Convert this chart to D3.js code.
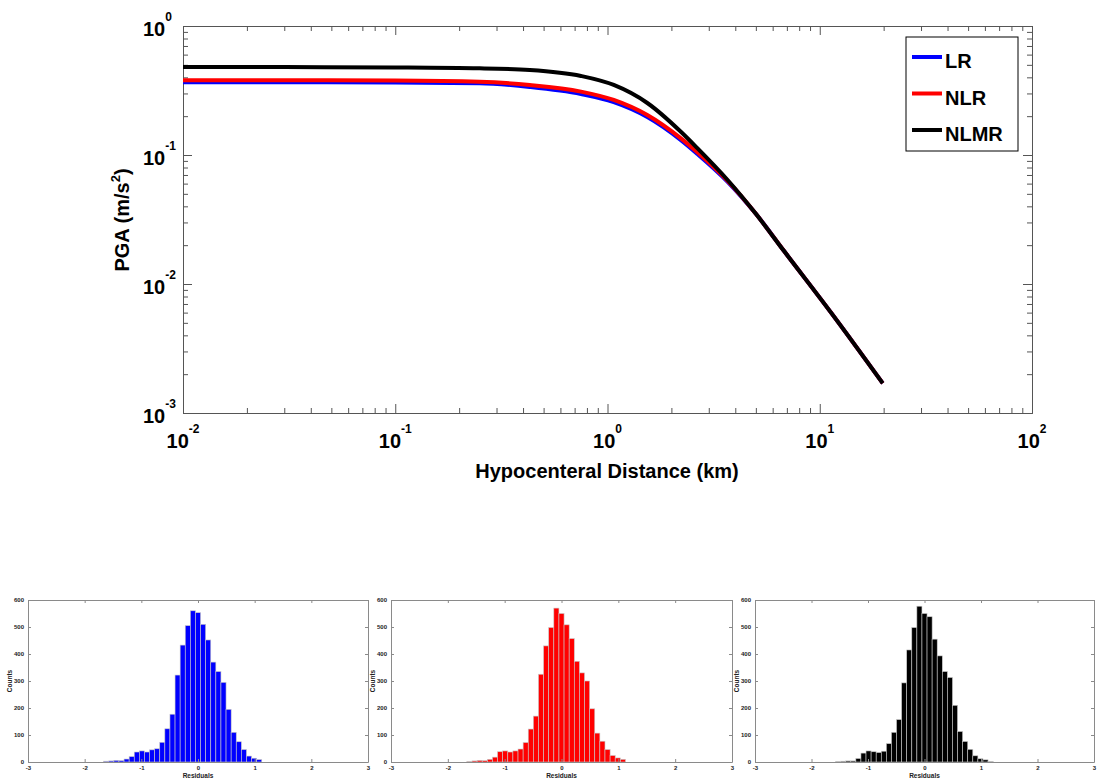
<!DOCTYPE html>
<html>
<head>
<meta charset="utf-8">
<script src="https://cdn.jsdelivr.net/npm/d3@7"></script>
<style>
body { margin: 0; background: #fff; }
text { font-family: "Liberation Sans", Arial, Helvetica, sans-serif; font-weight: bold; }
</style>
</head>
<body>
<script>
// ---- data ----
// hypocentral distance (km) and PGA (m/s^2) for each model
var distance = [0.01, 0.03, 0.1, 0.25, 0.43, 0.75, 1.07, 1.54, 2.21, 2.65, 3.68, 5.0, 6.79, 11.7, 19.8];
var pgaLR    = [0.366, 0.366, 0.364, 0.36, 0.337, 0.297, 0.257, 0.197, 0.131, 0.102, 0.062, 0.035, 0.018, 0.00556, 0.0017];
var pgaNLR   = [0.38, 0.38, 0.378, 0.37, 0.349, 0.31, 0.267, 0.204, 0.135, 0.105, 0.063, 0.035, 0.018, 0.00556, 0.0017];
var pgaNLMR  = [0.48, 0.48, 0.477, 0.47, 0.456, 0.41, 0.349, 0.253, 0.152, 0.113, 0.064, 0.035, 0.018, 0.00556, 0.0017];

var models = ["LR", "NLR", "NLMR"];
var colors = ["#0000ff", "#ff0000", "#000000"];

// residual histograms: bin centres and counts
var residualBins = [-1.62, -1.53, -1.44, -1.35, -1.26, -1.17, -1.08, -0.99, -0.90, -0.81, -0.72, -0.63,
  -0.54, -0.45, -0.36, -0.27, -0.18, -0.09, 0.00, 0.09, 0.18, 0.27, 0.36, 0.45, 0.54, 0.63, 0.72,
  0.81, 0.90, 0.99, 1.08, 1.17];
var binWidth = 0.09;
var countsLR   = [3, 4, 6, 5, 11, 20, 37, 41, 37, 45, 49, 73, 123, 177, 322, 433, 505, 560, 553, 510, 452,
  370, 335, 295, 195, 110, 75, 46, 22, 14, 9, 0];
var countsNLR  = [2, 4, 6, 5, 10, 18, 38, 41, 37, 41, 48, 72, 122, 170, 325, 430, 498, 570, 550, 508, 457,
  373, 330, 300, 197, 107, 77, 46, 24, 15, 10, 0];
var countsNLMR = [0, 1, 3, 4, 4, 13, 33, 41, 38, 35, 40, 68, 110, 157, 293, 415, 498, 577, 550, 538, 455,
  393, 335, 313, 210, 113, 76, 47, 23, 12, 8, 2];

var xDecades = [0.01, 0.1, 1, 10, 100];
var yDecades = [0.001, 0.01, 0.1, 1];
var residualTicks = [-3, -2, -1, 0, 1, 2, 3];
var countTicks = [0, 100, 200, 300, 400, 500, 600];

var width = 1104, height = 781;

var svg = d3.select("body").append("svg")
  .attr("width", width)
  .attr("height", height);

svg.append("rect").attr("width", width).attr("height", height).attr("fill", "#fff");

// ================= main PGA plot =================
var x = d3.scaleLog().domain([0.01, 100]).range([183, 1032]);
var y = d3.scaleLog().domain([0.001, 1]).range([413, 26]);

var axisColor = "#555";
var minorX = x.ticks().filter(function (d) { return xDecades.indexOf(d) < 0; });
var minorY = y.ticks().filter(function (d) { return yDecades.indexOf(d) < 0; });

function tickAxes(axisFn, scale, major, minor, pos) {
  var g = svg.append("g").attr("transform", pos);
  g.append("g").call(axisFn(scale).tickValues(major).tickSize(-9).tickSizeOuter(0).tickFormat(""));
  g.append("g").call(axisFn(scale).tickValues(minor).tickSize(-5).tickSizeOuter(0).tickFormat(""));
  g.selectAll("path,line").attr("stroke", axisColor);
}
tickAxes(d3.axisBottom, x, xDecades, minorX, "translate(0,413)");
tickAxes(d3.axisTop, x, xDecades, minorX, "translate(0,26)");
tickAxes(d3.axisLeft, y, yDecades, minorY, "translate(183,0)");
tickAxes(d3.axisRight, y, yDecades, minorY, "translate(1032,0)");

function expLabel(sel, d) {
  var e = Math.round(Math.log10(d));
  sel.append("tspan").text("10");
  sel.append("tspan").attr("font-size", 12).attr("dy", -15).text(e);
}

// x tick labels
xDecades.forEach(function (d) {
  var t = svg.append("text")
    .attr("x", x(d)).attr("y", 448)
    .attr("text-anchor", "middle")
    .attr("font-size", 20);
  expLabel(t, d);
});
// y tick labels
yDecades.forEach(function (d) {
  var t = svg.append("text")
    .attr("x", 143).attr("y", y(d) + 9.5)
    .attr("font-size", 20);
  expLabel(t, d);
});

svg.append("text")
  .attr("x", 607).attr("y", 478)
  .attr("text-anchor", "middle")
  .attr("font-size", 20)
  .text("Hypocenteral Distance (km)");

var yl = svg.append("text")
  .attr("transform", "translate(129,220) rotate(-90)")
  .attr("text-anchor", "middle")
  .attr("font-size", 20);
yl.append("tspan").text("PGA (m/s");
yl.append("tspan").attr("font-size", 13).attr("dy", -9).text("2");
yl.append("tspan").attr("dy", 9).text(")");

// curves
var line = d3.line()
  .x(function (d) { return x(d[0]); })
  .y(function (d) { return y(d[1]); })
  .curve(d3.curveMonotoneX);

[pgaLR, pgaNLR, pgaNLMR].forEach(function (vals, i) {
  svg.append("path")
    .datum(distance.map(function (r, k) { return [r, vals[k]]; }))
    .attr("fill", "none")
    .attr("stroke", colors[i])
    .attr("stroke-width", 4)
    .attr("d", line);
});

// legend
var legend = svg.append("g");
legend.append("rect")
  .attr("x", 906).attr("y", 37).attr("width", 112).attr("height", 114)
  .attr("fill", "#fff").attr("stroke", "#000").attr("stroke-width", 1);
models.forEach(function (m, i) {
  var ly = 57 + i * 36.5;
  legend.append("line")
    .attr("x1", 912).attr("x2", 942).attr("y1", ly).attr("y2", ly)
    .attr("stroke", colors[i]).attr("stroke-width", 4);
  legend.append("text")
    .attr("x", 945).attr("y", ly + 11)
    .attr("font-size", 20)
    .text(m);
});

// ================= residual histograms =================
var panels = [
  { left: 28, right: 368, counts: countsLR },
  { left: 391, right: 732, counts: countsNLR },
  { left: 755, right: 1094, counts: countsNLMR }
];

panels.forEach(function (p, i) {
  var hx = d3.scaleLinear().domain([-3, 3]).range([p.left, p.right]);
  var hy = d3.scaleLinear().domain([0, 600]).range([762, 600]);
  var g = svg.append("g");

  g.selectAll("rect")
    .data(residualBins.map(function (c, k) { return { c: c, n: p.counts[k] }; })
      .filter(function (d) { return d.n > 0; }))
    .join("rect")
    .attr("x", function (d) { return hx(d.c - binWidth / 2); })
    .attr("width", hx(binWidth) - hx(0))
    .attr("y", function (d) { return hy(d.n); })
    .attr("height", function (d) { return hy(0) - hy(d.n); })
    .attr("fill", colors[i])
    .attr("stroke", "#c8c8c8")
    .attr("stroke-width", 0.6);

  var plain = function (d) { return String(d); };
  var ax = [
    g.append("g").attr("transform", "translate(0,762)")
      .call(d3.axisBottom(hx).tickValues(residualTicks).tickSize(-3).tickSizeOuter(0).tickPadding(4).tickFormat(plain)),
    g.append("g").attr("transform", "translate(0,600)")
      .call(d3.axisTop(hx).tickValues(residualTicks).tickSize(-3).tickSizeOuter(0).tickFormat("")),
    g.append("g").attr("transform", "translate(" + p.left + ",0)")
      .call(d3.axisLeft(hy).tickValues(countTicks).tickSize(-3).tickSizeOuter(0).tickPadding(4).tickFormat(plain)),
    g.append("g").attr("transform", "translate(" + p.right + ",0)")
      .call(d3.axisRight(hy).tickValues(countTicks).tickSize(-3).tickSizeOuter(0).tickFormat(""))
  ];
  ax.forEach(function (a) {
    a.selectAll("path,line").attr("stroke", "#8a8a8a");
    a.selectAll("text").attr("font-size", 6).attr("fill", "#222")
      .style("font-family", '"Liberation Sans", Arial, sans-serif').style("font-weight", "bold");
  });

  g.append("text")
    .attr("x", (p.left + p.right) / 2).attr("y", 778)
    .attr("text-anchor", "middle")
    .attr("font-size", 6.5).attr("fill", "#222")
    .text("Residuals");
  g.append("text")
    .attr("transform", "translate(" + (p.left - 16) + ",681) rotate(-90)")
    .attr("text-anchor", "middle")
    .attr("font-size", 6.5).attr("fill", "#222")
    .text("Counts");
});
</script>
</body>
</html>
